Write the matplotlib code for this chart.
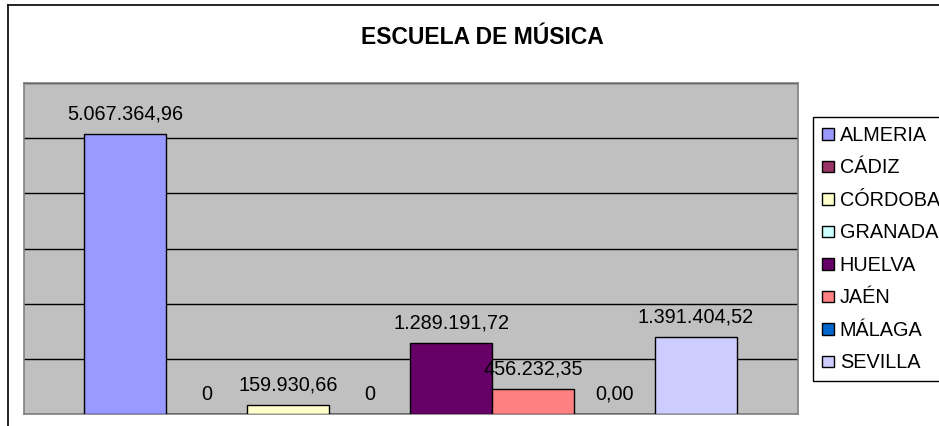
import matplotlib
matplotlib.use("Agg")
import matplotlib.pyplot as plt
from matplotlib.lines import Line2D
from matplotlib.patches import Patch

plt.rcParams['font.family'] = ['Liberation Sans', 'DejaVu Sans']

provinces = ['ALMERIA', 'CÁDIZ', 'CÓRDOBA', 'GRANADA', 'HUELVA', 'JAÉN', 'MÁLAGA', 'SEVILLA']
values = [5067364.96, 0, 159930.66, 0, 1289191.72, 456232.35, 0, 1391404.52]
value_labels = ['5.067.364,96', '0', '159.930,66', '0', '1.289.191,72', '456.232,35', '0,00', '1.391.404,52']
colors = ['#9999FF', '#993366', '#FFFFCC', '#CCFFFF', '#660066', '#FF8080', '#0066CC', '#CCCCFF']

W, H = 939, 426
fig = plt.figure(figsize=(W / 100, H / 100), dpi=100)

# outer chart frame (right and bottom run off the picture)
fig.add_artist(Line2D([8 / W, 8 / W], [0, 1 - 5 / H], color='black', lw=1.2))
fig.add_artist(Line2D([8 / W, 1], [1 - 5 / H, 1 - 5 / H], color='black', lw=1.2))

ax = fig.add_axes([24 / W, 12 / H, (798 - 24) / W, (414 - 83) / H])
ax.set_facecolor('#C0C0C0')
for s in ax.spines.values():
    s.set_color('#808080')
    s.set_linewidth(1.2)

ax.set_ylim(0, 6000000)
ax.set_yticks(range(0, 6000001, 1000000))
ax.yaxis.grid(True, color='black', lw=1)
ax.set_axisbelow(True)
ax.tick_params(left=False, bottom=False, labelleft=False, labelbottom=False)

handles = []
for i, (name, v, c) in enumerate(zip(provinces, values, colors)):
    ax.bar(i, v, width=1, color=c, edgecolor='black', lw=1, zorder=3)
    handles.append(Patch(facecolor=c, edgecolor='black', lw=1, label=name))
    ax.annotate(value_labels[i], (i, v), xytext=(0, 20), textcoords='offset pixels',
                ha='center', va='center', fontsize=14.3, zorder=4)

ax.set_xlim(-0.5 - 0.736, 7.5 + 0.75)

fig.text(482 / W, 1 - 37 / H, 'ESCUELA DE MÚSICA', ha='center', va='center',
         fontsize=16.5, fontweight='bold')

leg = fig.legend(handles=handles, loc='upper left', bbox_to_anchor=(813 / W, 1 - 117 / H),
                 fontsize=14.3, frameon=True, fancybox=False, edgecolor='black',
                 handlelength=0.6, handleheight=0.5, handletextpad=0.3,
                 labelspacing=0.68, borderpad=0.45, borderaxespad=0)
leg.get_frame().set_linewidth(1)
leg.get_frame().set_alpha(1)

fig.savefig('out.png', dpi=100)
